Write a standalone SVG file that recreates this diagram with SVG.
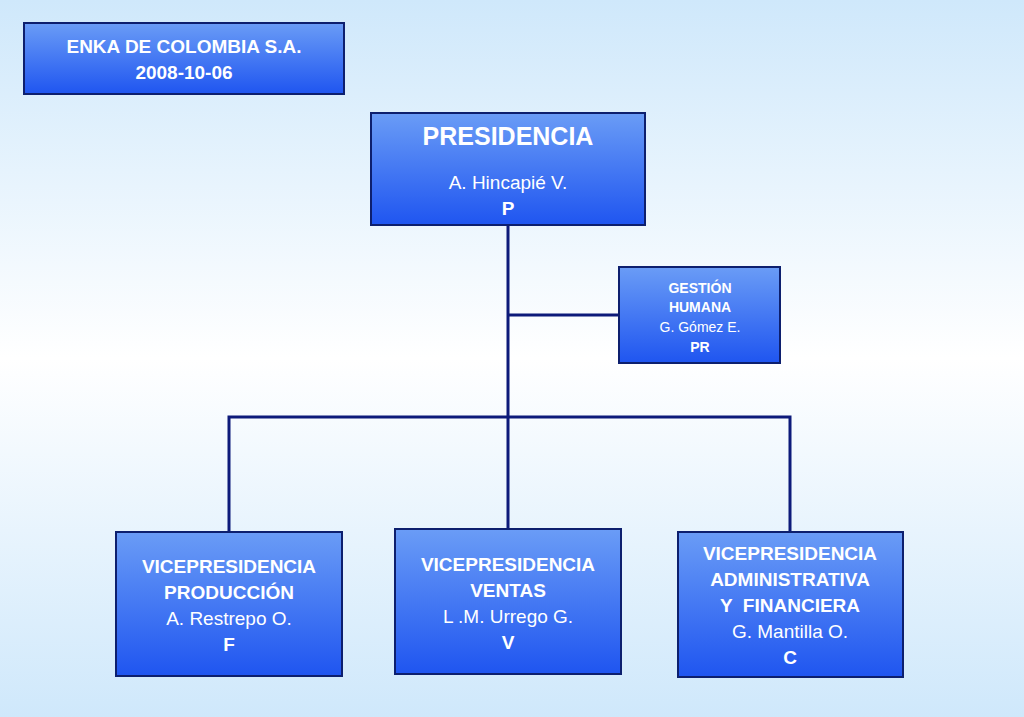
<svg xmlns="http://www.w3.org/2000/svg" width="1024" height="717" viewBox="0 0 1024 717">
<defs>
<linearGradient id="bg" x1="0" y1="0" x2="0" y2="1">
<stop offset="0" stop-color="#cfe8fb"/><stop offset="0.5" stop-color="#ffffff"/><stop offset="1" stop-color="#cfe8fb"/>
</linearGradient>
<linearGradient id="box" x1="0" y1="0" x2="0" y2="1">
<stop offset="0" stop-color="#6a9cf6"/><stop offset="1" stop-color="#1f55f0"/>
</linearGradient>
<style>
.b{fill:url(#box);stroke:#0d1f6e;stroke-width:2}
text{font-family:"Liberation Sans",Arial,sans-serif;fill:#fff;text-anchor:middle}
.h{font-weight:bold}
.c{fill:none;stroke:#0d1a7a;stroke-width:3}
</style>
</defs>
<rect width="1024" height="717" fill="url(#bg)"/>
<g id="connectors">
<path class="c" d="M508 225V417M508 315H620M229 531V417H790V532M508 417V529"/>
</g>
<g id="title"><rect class="b" x="24" y="23" width="320" height="71"/>
<text class="h" x="184" y="53" font-size="19">ENKA DE COLOMBIA S.A.</text>
<text class="h" x="184" y="79" font-size="19">2008-10-06</text></g>
<g id="presidencia"><rect class="b" x="371" y="113" width="274" height="112"/>
<text class="h" x="508" y="145" font-size="25">PRESIDENCIA</text>
<text x="508" y="189" font-size="19">A. Hincapié V.</text>
<text class="h" x="508" y="215" font-size="19">P</text></g>
<g id="gestion"><rect class="b" x="619" y="267" width="161" height="96"/>
<text class="h" x="700" y="293" font-size="14">GESTIÓN</text>
<text class="h" x="700" y="312" font-size="14">HUMANA</text>
<text x="700" y="332" font-size="14">G. Gómez E.</text>
<text class="h" x="700" y="352" font-size="14">PR</text></g>
<g id="vp-produccion"><rect class="b" x="116" y="532" width="226" height="144"/>
<text class="h" x="229" y="573" font-size="19">VICEPRESIDENCIA</text>
<text class="h" x="229" y="599" font-size="19">PRODUCCIÓN</text>
<text x="229" y="625" font-size="19">A. Restrepo O.</text>
<text class="h" x="229" y="651" font-size="19">F</text></g>
<g id="vp-ventas"><rect class="b" x="395" y="529" width="226" height="145"/>
<text class="h" x="508" y="571" font-size="19">VICEPRESIDENCIA</text>
<text class="h" x="508" y="597" font-size="19">VENTAS</text>
<text x="508" y="623" font-size="19">L .M. Urrego G.</text>
<text class="h" x="508" y="649" font-size="19">V</text></g>
<g id="vp-admin"><rect class="b" x="678" y="532" width="225" height="145"/>
<text class="h" x="790" y="560" font-size="19">VICEPRESIDENCIA</text>
<text class="h" x="790" y="586" font-size="19">ADMINISTRATIVA</text>
<text class="h" x="790" y="612" font-size="19" xml:space="preserve">Y  FINANCIERA</text>
<text x="790" y="638" font-size="19">G. Mantilla O.</text>
<text class="h" x="790" y="664" font-size="19">C</text></g>
</svg>
